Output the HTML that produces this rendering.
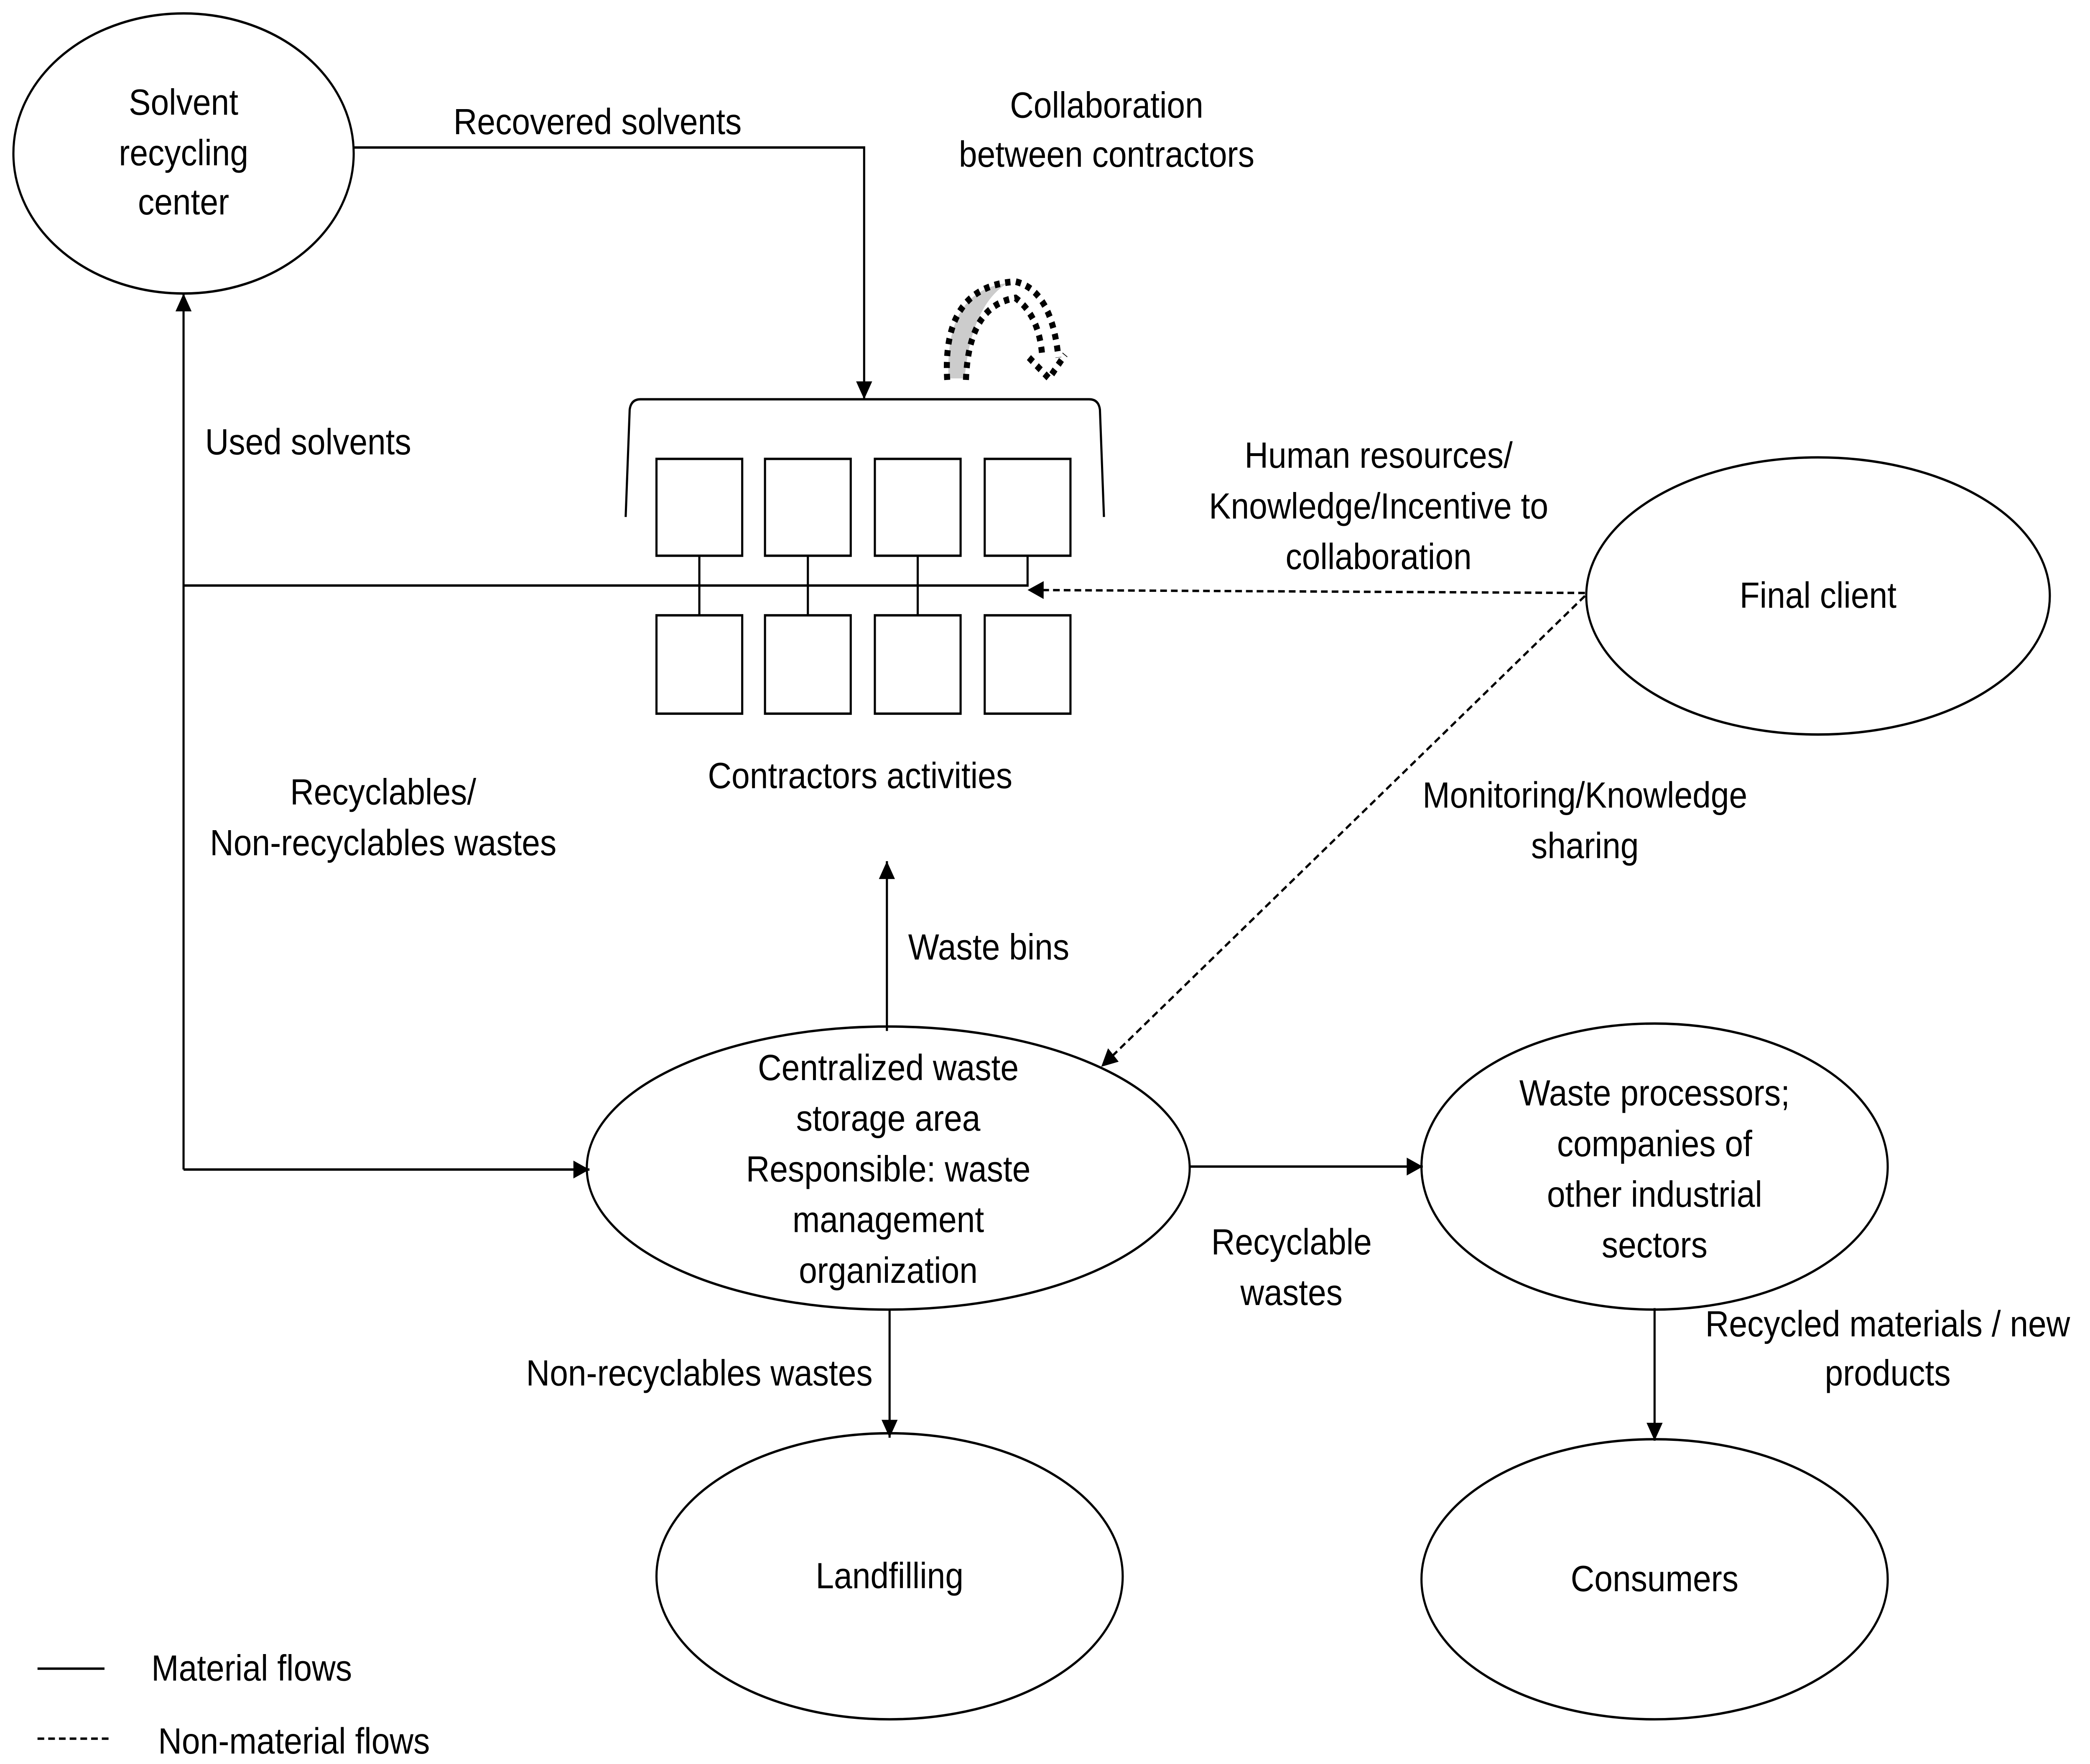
<!DOCTYPE html>
<html><head><meta charset="utf-8"><style>html,body{margin:0;padding:0;background:#fff;overflow:hidden;width:100%;height:100%}svg{display:block;width:100vw;height:100vh}</style></head><body>
<svg viewBox="0 0 1560 1184" preserveAspectRatio="none" xmlns="http://www.w3.org/2000/svg" font-family="'Liberation Sans', sans-serif" font-size="24.5" text-anchor="middle">
<defs>
<marker id="b" viewBox="0 0 10 10" refX="10" refY="5" markerWidth="14" markerHeight="12" orient="auto" markerUnits="userSpaceOnUse"><path d="M0,0 L10,5 L0,10 z" fill="#000"/></marker>
</defs>
<rect width="1560" height="1184" fill="#fff"/>
<g fill="none" stroke="#000" stroke-width="1.6">
<ellipse cx="137" cy="103" rx="127" ry="94"/>
<ellipse cx="663" cy="784" rx="225" ry="95"/>
<ellipse cx="1357" cy="400" rx="173" ry="93"/>
<ellipse cx="1235" cy="783" rx="174" ry="96"/>
<ellipse cx="1235" cy="1060" rx="174" ry="94"/>
<ellipse cx="664" cy="1058" rx="174" ry="96"/>
<path d="M467,347 L470,275 Q471,268 478,268 L813,268 Q820,268 821,275 L824,347"/>
<rect x="490" y="308" width="64" height="65"/><rect x="571" y="308" width="64" height="65"/><rect x="653" y="308" width="64" height="65"/><rect x="735" y="308" width="64" height="65"/>
<rect x="490" y="413" width="64" height="66"/><rect x="571" y="413" width="64" height="66"/><rect x="653" y="413" width="64" height="66"/><rect x="735" y="413" width="64" height="66"/>
<path d="M522,373V413M603,373V413M685,373V413M767,373V393H137"/>
<path d="M264,99H645V268" marker-end="url(#b)"/>
<path d="M137,785V197" marker-end="url(#b)"/>
<path d="M137,785H440" marker-end="url(#b)"/>
<path d="M662,692V578" marker-end="url(#b)"/>
<path d="M888,783H1062" marker-end="url(#b)"/>
<path d="M1235,878V967" marker-end="url(#b)"/>
<path d="M664,879V965" marker-end="url(#b)"/>
<path d="M1183,398L767,396" stroke-dasharray="5,3" marker-end="url(#b)"/>
<path d="M1183,400L822,716" stroke-dasharray="5,3" marker-end="url(#b)"/>
<path d="M28,1120H78"/>
<path d="M28,1167H84" stroke-dasharray="5,3"/>
</g>
<path d="M708,254 Q705,195 752,190 Q725,205 720,254 Z" fill="#ccc"/>
<g fill="none" stroke="#000" stroke-width="4.5" stroke-dasharray="4,4">
<path d="M707,255 Q703,192 758,189 Q785,195 790,240"/>
<path d="M721,255 Q723,205 758,200 Q776,212 778,240"/>
<path d="M768,240 L783,254 L795,238"/>
</g>
<g fill="#000">
<text x="137" y="77">Solvent</text><text x="137" y="111">recycling</text><text x="137" y="144">center</text>
<text x="446" y="90">Recovered solvents</text>
<text x="826" y="79">Collaboration</text><text x="826" y="112">between contractors</text>
<text x="230" y="305">Used solvents</text>
<text x="1029" y="314">Human resources/</text><text x="1029" y="348">Knowledge/Incentive to</text><text x="1029" y="382">collaboration</text>
<text x="1357" y="408">Final client</text>
<text x="642" y="529">Contractors activities</text>
<text x="286" y="540">Recyclables/</text><text x="286" y="574">Non-recyclables wastes</text>
<text x="1183" y="542">Monitoring/Knowledge</text><text x="1183" y="576">sharing</text>
<text x="738" y="644">Waste bins</text>
<text x="663" y="725">Centralized waste</text><text x="663" y="759">storage area</text><text x="663" y="793">Responsible: waste</text><text x="663" y="827">management</text><text x="663" y="861">organization</text>
<text x="1235" y="742">Waste processors;</text><text x="1235" y="776">companies of</text><text x="1235" y="810">other industrial</text><text x="1235" y="844">sectors</text>
<text x="964" y="842">Recyclable</text><text x="964" y="876">wastes</text>
<text x="1409" y="897">Recycled materials / new</text><text x="1409" y="930">products</text>
<text x="522" y="930">Non-recyclables wastes</text>
<text x="664" y="1066">Landfilling</text>
<text x="1235" y="1068">Consumers</text>
<text x="113" y="1128" text-anchor="start">Material flows</text>
<text x="118" y="1177" text-anchor="start">Non-material flows</text>
</g>
</svg>
</body></html>
